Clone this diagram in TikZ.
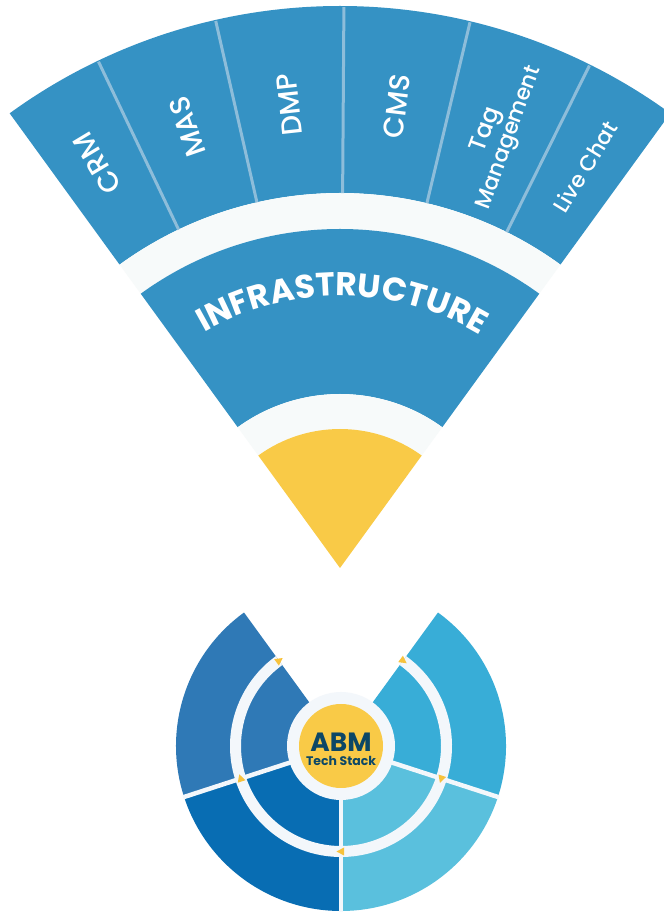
\documentclass[tikz,border=0pt]{standalone}
\usepackage{fontspec}
\setmainfont{Poppins}
\newfontfamily\pmed{Poppins Medium}
\usetikzlibrary{decorations.text,calc}
\definecolor{fanblue}{HTML}{3592C4}
\definecolor{divline}{HTML}{8DBDDA}
\definecolor{band}{HTML}{F7FAFA}
\definecolor{gold}{HTML}{F9CA47}
\definecolor{arrowy}{HTML}{F7C23C}
\definecolor{segtl}{HTML}{2F79B6}
\definecolor{segbl}{HTML}{086DB3}
\definecolor{segbr}{HTML}{5AC0DD}
\definecolor{segtr}{HTML}{38ADD7}
\definecolor{ringlight}{HTML}{F3F7FB}
\definecolor{navy}{HTML}{0C4766}
\newcommand{\ringseg}[6]{%
  \fill[#6, shift={(#1)}] (#4:#2) arc[start angle=#4, end angle=#5, radius=#2]
    -- (#5:#3) arc[start angle=#5, end angle=#4, radius=#3] -- cycle;}
\tikzset{
  applabel/.style={text=white, font=\pmed\fontsize{22}{24}\selectfont, align=center, inner sep=0pt},
  capslabel/.style={applabel, font=\pmed\fontsize{28.5}{30}\selectfont},
  corelabel/.style={text=navy, inner sep=0pt},
}
\begin{document}
\begin{tikzpicture}[x=1bp,y=1bp]
\fill[white] (0,0) rectangle (664,912);
\useasboundingbox (0,0) rectangle (664,912);
\coordinate (A) at (340,344);
\coordinate (B) at (341,166);
% ---------- top fan ----------
\ringseg{A}{375}{562}{54}{126}{fanblue}
\ringseg{A}{339}{375}{54}{126}{band}
\ringseg{A}{174}{339}{54}{126}{fanblue}
\ringseg{A}{139}{174}{54}{126}{band}
\fill[gold, shift={(A)}] (0,0) -- (54:139) arc[start angle=54, end angle=126, radius=139] -- cycle;
\foreach \a in {115.5,102.8,89.6,76.6,63.6}
  \draw[divline, line width=3bp, shift={(A)}] (\a:375) -- (\a:561);
\node[capslabel, rotate=121] (crm) at ($(A)+(121:472)$) {CRM};
\node[capslabel, rotate=109.1] (mas) at ($(A)+(109.1:467)$) {MAS};
\node[capslabel, rotate=96.2] (dmp) at ($(A)+(96.2:466)$) {DMP};
\node[capslabel, rotate=83] (cms) at ($(A)+(83:465)$) {CMS};
\node[applabel, rotate=70] (tag) at ($(A)+(70:462)$) {{\fontsize{24}{24}\selectfont Tag}\\Management};
\node[applabel, rotate=58.6] (live) at ($(A)+(58.6:470)$) {Live Chat};
\path[decorate, font=\bfseries\fontsize{33}{33}\selectfont,
  decoration={text along path, text align=center,
  text={|\color{white}\bfseries\fontsize{33}{33}\selectfont|INFRASTRUCTURE}},
  shift={(A)}] (129.5:272) arc[start angle=129.5, end angle=49.5, radius=272];
% ---------- bottom wheel ----------
\fill[segtl, shift={(B)}] (0,0) -- (126:165) arc[start angle=126, end angle=198, radius=165] -- cycle;
\fill[segbl, shift={(B)}] (0,0) -- (198:165) arc[start angle=198, end angle=270, radius=165] -- cycle;
\fill[segbr, shift={(B)}] (0,0) -- (270:165) arc[start angle=270, end angle=342, radius=165] -- cycle;
\fill[segtr, shift={(B)}] (0,0) -- (342:165) arc[start angle=342, end angle=414, radius=165] -- cycle;
\ringseg{B}{100}{111}{126}{414}{ringlight}
\fill[ringlight] (B) circle[radius=54];
\foreach \a in {198,270,342}
  \draw[ringlight, line width=4.5bp, shift={(B)}] (0,0) -- (\a:166);
\foreach \a in {126,198,270,342,54}
  \fill[arrowy, shift={(B)}, shift={(\a:105.5)}, rotate=\a-90] (4.5,0) -- (-3,4) -- (-3,-4) -- cycle;
\node[circle, fill=gold, minimum size=84bp, inner sep=0pt] (core) at (B) {};
\node[corelabel, font=\bfseries\fontsize{26.5}{26}\selectfont] (abm) at ($(B)+(0,4)$) {ABM};
\node[corelabel, font=\bfseries\fontsize{12.5}{12}\selectfont] (stack) at ($(B)+(0,-15)$) {Tech Stack};
\end{tikzpicture}
\end{document}
